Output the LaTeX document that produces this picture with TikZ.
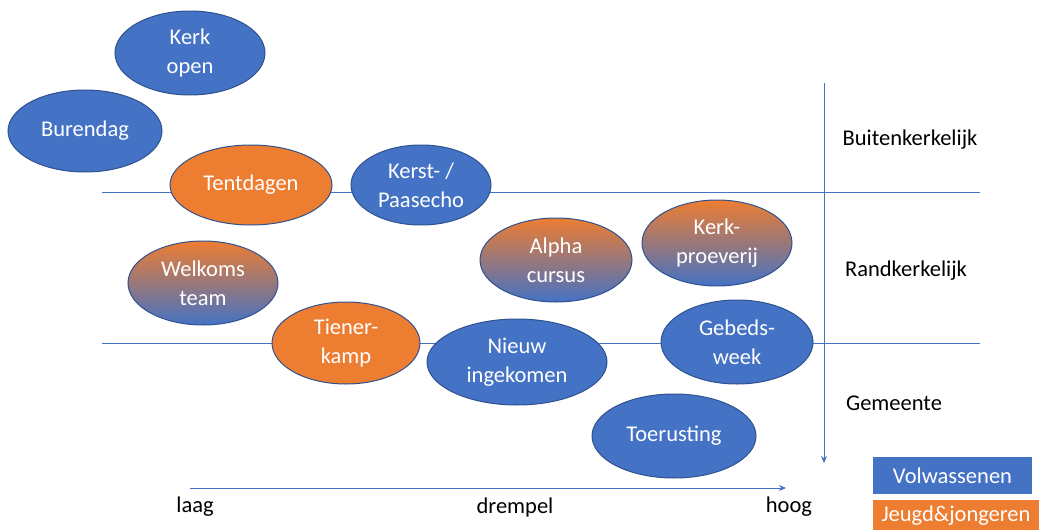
\documentclass[tikz,border=0pt]{standalone}
\usepackage{fontspec}
\setmainfont{Carlito}
\usetikzlibrary{shapes.geometric,arrows.meta}
\definecolor{vblue}{HTML}{4472C4}
\definecolor{vorange}{HTML}{ED7D31}
\definecolor{vborder}{HTML}{2F528F}
\tikzset{
  bubble/.style={ellipse,draw=vborder,line width=1pt,inner sep=0pt,text=white,
    font=\fontsize{22.5}{29}\selectfont,align=center},
  adult/.style={bubble,fill=vblue},
  youth/.style={bubble,fill=vorange},
  mixed/.style={bubble,top color=vorange,bottom color=vblue},
  axis/.style={draw=vblue,line width=1pt},
  lbl/.style={text=black,font=\fontsize{22.5}{27}\selectfont,inner sep=0pt},
  legend/.style={text=white,font=\fontsize{22.5}{27}\selectfont,inner sep=0pt}
}
\begin{document}
\begin{tikzpicture}[x=1pt,y=-1pt]
\useasboundingbox (0,0) rectangle (1039,530);
% lines
\coordinate (l1a) at (102,192); \coordinate (l1b) at (980,192);
\coordinate (l2a) at (102,343); \coordinate (l2b) at (980,343);
\coordinate (va) at (824,83); \coordinate (vb) at (824,463);
\coordinate (ha) at (190,488); \coordinate (hb) at (786,488);
\draw[axis] (l1a) -- (l1b);
\draw[axis] (l2a) -- (l2b);
\draw[axis,-{Stealth[length=7pt,width=6pt]}] (va) -- (vb);
\draw[axis,-{Stealth[length=7pt,width=6pt]}] (ha) -- (hb);
% bubbles
\node[adult,minimum width=150pt,minimum height=84pt] (kerkopen) at (190,53) {Kerk\\open};
\node[adult,minimum width=154pt,minimum height=82pt] (burendag) at (85,131) {Burendag};
\node[youth,minimum width=162pt,minimum height=80pt] (tentdagen) at (251,185) {Tentdagen};
\node[adult,minimum width=140pt,minimum height=80pt] (kerst) at (421,185) {Kerst- /\\Paasecho};
\node[mixed,minimum width=150pt,minimum height=84pt] (welkom) at (203,283) {Welkoms\\team};
\node[youth,minimum width=148pt,minimum height=82pt] (tiener) at (346,343) {Tiener-\\kamp};
\node[mixed,minimum width=152pt,minimum height=84pt] (alpha) at (556,260) {Alpha\\cursus};
\node[mixed,minimum width=150pt,minimum height=86pt] (proeverij) at (717,243) {Kerk-\\proeverij};
\node[adult,minimum width=180pt,minimum height=86pt] (nieuw) at (517,362) {Nieuw\\ingekomen};
\node[adult,minimum width=152pt,minimum height=84pt] (gebed) at (737,342) {Gebeds-\\week};
\node[adult,minimum width=164pt,minimum height=84pt] (toerusting) at (674,436) {Toerusting};
% labels
\node[lbl] (laag) at (195,507) {laag};
\node[lbl] (drempel) at (515,507) {drempel};
\node[lbl] (hoog) at (789,507) {hoog};
\node[lbl] (buiten) at (910,140) {Buitenkerkelijk};
\node[lbl] (rand) at (906,271) {Randkerkelijk};
\node[lbl] (gemeente) at (894,403) {Gemeente};
% legend
\fill[vblue] (873,457) rectangle (1032,494);
\node[legend] (volw) at (952.5,476) {Volwassenen};
\fill[vorange] (873,500) rectangle (1039,530);
\node[legend] (jeugd) at (956,516) {Jeugd\&jongeren};
\end{tikzpicture}
\end{document}
